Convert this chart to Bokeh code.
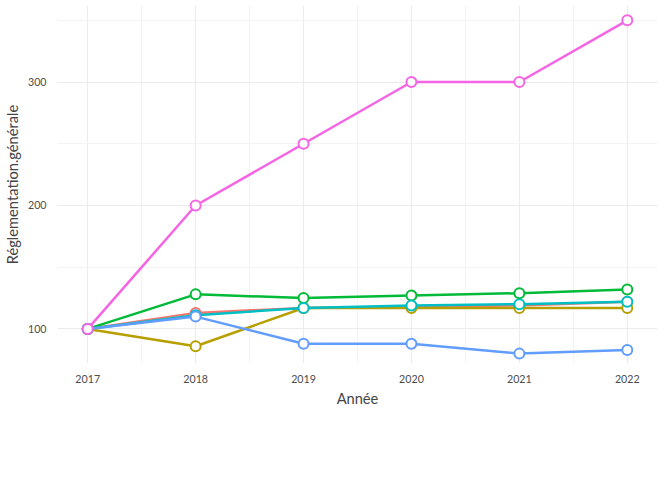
from bokeh.embed import file_html
from bokeh.resources import INLINE
from bokeh.plotting import figure
from bokeh.models import Legend, LegendItem, Label, FixedTicker

years = [2017, 2018, 2019, 2020, 2021, 2022]
series_names = ["Bâtiment d'habitation", "Code du travail (non ERP)", "Code du Travail (non ERP)",
                "ERP", "Foyer logement", "IGH"]
batiment = [100, 113, 117, 118, 119, 122]
code_travail_min = [100, 86, 117, 117, 117, 117]
code_travail_maj = [100, 128, 125, 127, 129, 132]
erp = [100, 111, 117, 119, 120, 122]
foyer = [100, 110, 88, 88, 80, 83]
igh = [100, 200, 250, 300, 300, 350]
colors = ["#F8766D", "#B79F00", "#00BA38", "#00BFC4", "#619CFF", "#F564E3"]

FONT = "Lato"
p = figure(frame_width=600, frame_height=358, output_backend="svg", toolbar_location=None,
           x_range=(2016.72, 2022.28), y_range=(72, 362), min_border_left=10,
           min_border_right=12, min_border_top=5, min_border_bottom=5)
p.outline_line_color = None
for ax in (p.xaxis, p.yaxis):
    ax.axis_line_color = None
    ax.major_tick_line_color = None
    ax.minor_tick_line_color = None
    ax.major_label_text_font = FONT
    ax.major_label_text_font_size = "8pt"
    ax.major_label_text_color = "#4d4d4d"
    ax.axis_label_text_font = FONT
    ax.axis_label_text_font_style = "normal"
    ax.axis_label_text_font_size = "11pt"
    ax.axis_label_standoff = 4
p.xaxis.ticker = FixedTicker(ticks=years, minor_ticks=[y + 0.5 for y in years[:-1]])
p.yaxis.ticker = FixedTicker(ticks=[100, 200, 300], minor_ticks=[150, 250, 350])
p.xaxis.axis_label = "Année"
p.yaxis.axis_label = "Réglementation.générale"
p.grid.grid_line_color = "#ebebeb"
p.grid.minor_grid_line_color = "#f3f3f3"

data = [batiment, code_travail_min, code_travail_maj, erp, foyer, igh]
items = {}
for name, vals, c in zip(series_names, data, colors):
    l = p.line(years, vals, line_color=c, line_width=2.5)
    s = p.scatter(years, vals, size=10, fill_color="white", line_color=c, line_width=2)
    items[name] = LegendItem(label=name, renderers=[l, s])

order = [series_names[i] for i in (0, 2, 4, 1, 3, 5)]
legend = Legend(items=[items[n] for n in order], orientation="horizontal", ncols=3,
                label_text_font=FONT, label_text_font_size="8pt",
                border_line_color=None, glyph_width=18, spacing=4, label_standoff=6,
                margin=0, padding=2, location=(85, 0))
p.add_layout(legend, "below")
p.add_layout(Label(x=55, y=-83, x_units="screen", y_units="screen", text="var",
                   text_font=FONT, text_font_size="11pt"))

open("out.html", "w").write(file_html(p, INLINE))
